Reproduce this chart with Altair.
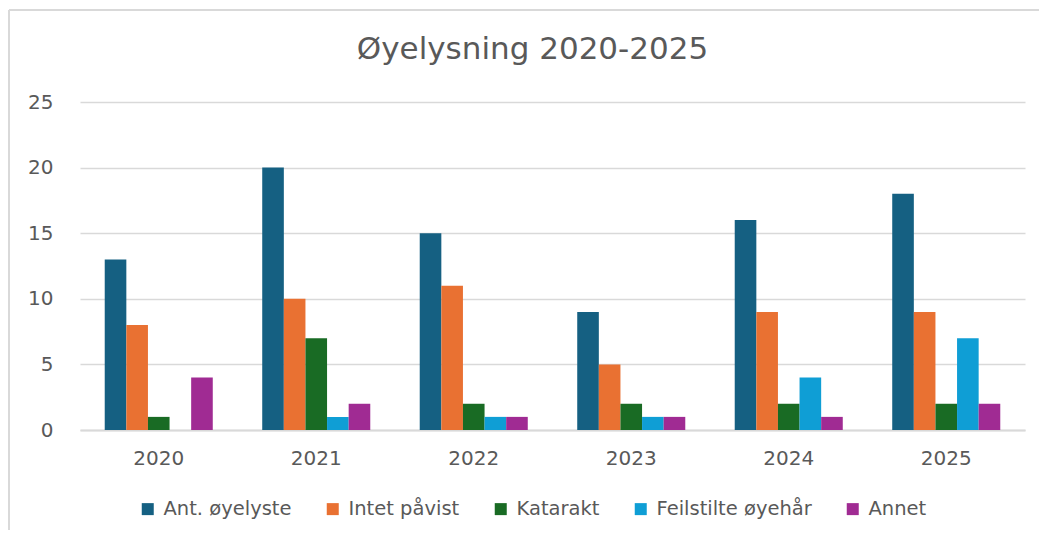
import altair as alt
import pandas as pd

years = ["2020", "2021", "2022", "2023", "2024", "2025"]
series = ["Ant. øyelyste", "Intet påvist", "Katarakt", "Feilstilte øyehår", "Annet"]
colors = ["#156082", "#E97132", "#196B24", "#0F9ED5", "#A02B93"]
ant_oyelyste = [13, 20, 15, 9, 16, 18]
intet_pavist = [8, 10, 11, 5, 9, 9]
katarakt = [1, 7, 2, 2, 2, 2]
feilstilte = [0, 1, 1, 1, 4, 7]
annet = [4, 2, 1, 1, 1, 2]
y_ticks = [0, 5, 10, 15, 20, 25]

rows = []
for name, vals in zip(series, [ant_oyelyste, intet_pavist, katarakt, feilstilte, annet]):
    for yr, v in zip(years, vals):
        rows.append({"År": yr, "Serie": name, "Verdi": v})
df = pd.DataFrame(rows)

FONT = "DejaVu Sans"
GRAY = "#595959"
LINE = "#d9d9d9"

bars = alt.Chart(df).mark_bar(strokeWidth=0).encode(
    x=alt.X("År:N", sort=years, title=None,
            scale=alt.Scale(paddingInner=0.314, paddingOuter=0.157),
            axis=alt.Axis(labelAngle=0, ticks=False, grid=False, domainColor=LINE,
                          domainWidth=2, labelPadding=18, labelFontSize=20,
                          labelColor=GRAY, labelFont=FONT)),
    xOffset=alt.XOffset("Serie:N", sort=series, scale=alt.Scale(paddingInner=0, paddingOuter=0)),
    y=alt.Y("Verdi:Q", title=None,
            scale=alt.Scale(domain=[0, 25], nice=False),
            axis=alt.Axis(values=y_ticks, domain=False, ticks=False, gridColor=LINE,
                          gridWidth=1.5, labelPadding=27, labelFontSize=20,
                          labelColor=GRAY, labelFont=FONT)),
    color=alt.Color("Serie:N", sort=series, title=None,
                    scale=alt.Scale(domain=series, range=colors),
                    legend=alt.Legend(orient="none", direction="horizontal",
                                      legendX=58, legendY=397, symbolType="square",
                                      symbolSize=144, symbolStrokeWidth=0,
                                      labelFontSize=19.5, labelColor=GRAY, labelFont=FONT,
                                      labelOffset=6, columnPadding=31, padding=0)),
)

border_data = alt.Data(values=[{"a": 1}])
left_border = alt.Chart(border_data).mark_rule(color=LINE, strokeWidth=2).encode(
    x=alt.value(-71), y=alt.value(-92), y2=alt.value(440))
top_border = alt.Chart(border_data).mark_rule(color=LINE, strokeWidth=2).encode(
    x=alt.value(-71), x2=alt.value(970), y=alt.value(-92))

chart = alt.layer(bars, left_border, top_border).properties(
    width=945, height=328,
    autosize=alt.AutoSizeParams(type="none"),
    padding={"left": 72, "top": 94, "right": 14, "bottom": 100},
    title=alt.TitleParams("Øyelysning 2020-2025", fontSize=31, font=FONT, color=GRAY,
                          fontWeight="normal", anchor="middle", dx=-20, offset=-57),
).configure_view(stroke=None)

chart.save("out.html", embed_options={"renderer": "svg", "actions": False})
